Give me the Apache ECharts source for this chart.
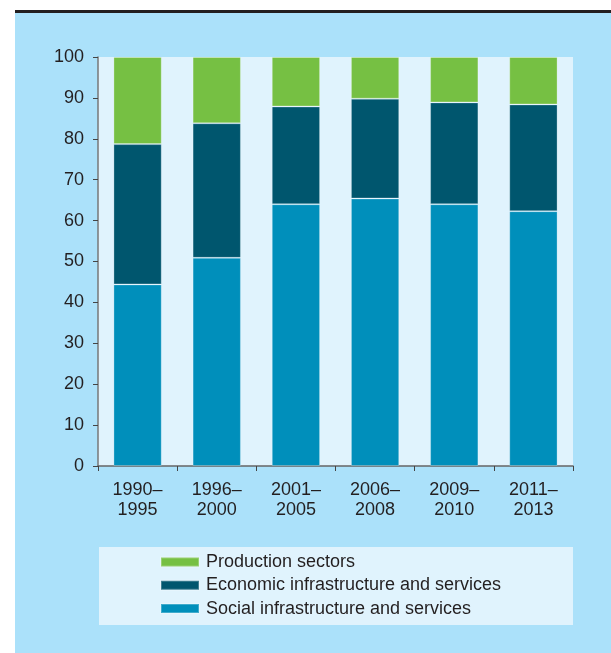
<!DOCTYPE html>
<html>
<head>
<meta charset="utf-8">
<script src="https://cdn.jsdelivr.net/npm/echarts@6/dist/echarts.min.js"></script>
<style>
html,body{margin:0;padding:0;background:#fff;}
#c{width:611px;height:653px;}
</style>
</head>
<body>
<div id="c"></div>
<script>
var categories = ['1990–\n1995','1996–\n2000','2001–\n2005','2006–\n2008','2009–\n2010','2011–\n2013'];
var social = [44.4, 50.9, 64.0, 65.4, 64.0, 62.3];
var economic = [34.3, 32.9, 23.9, 24.4, 24.9, 26.1];
var production = [21.3, 16.2, 12.1, 10.2, 11.1, 11.6];
var yTicks = [0,10,20,30,40,50,60,70,80,90,100];

var FONT = '"Liberation Sans", Arial, sans-serif';
var TXT = '#231f20';
var chart = echarts.init(document.getElementById('c'), null, {renderer:'canvas'});
var barBorder = {borderColor:'rgba(255,255,255,0.25)', borderWidth:1};
chart.setOption({
  animation:false,
  backgroundColor:'#ffffff',
  graphic:[
    {type:'rect', z:-10, shape:{x:15,y:13,width:596,height:640}, style:{fill:'#abe1fa'}},
    {type:'rect', z:-9, shape:{x:15,y:10,width:596,height:3}, style:{fill:'#231f20'}},
    {type:'rect', z:-9, shape:{x:99,y:547,width:474,height:78}, style:{fill:'#e0f3fd'}}
  ],
  grid:{left:98,right:38,top:57,bottom:187,show:true,backgroundColor:'#e0f3fd',borderWidth:0},
  legend:{
    orient:'vertical', left:160, top:553, padding:0,
    itemWidth:38, itemHeight:9, itemGap:5.3,
    icon:'rect',
    textStyle:{fontFamily:FONT,fontSize:18,color:TXT,lineHeight:16,padding:[0,0,0,2]},
    data:['Production sectors','Economic infrastructure and services','Social infrastructure and services']
  },
  xAxis:{
    type:'category', data:categories,
    axisLine:{lineStyle:{color:'#666',width:1.5}},
    axisTick:{show:true,length:5,interval:0,lineStyle:{color:'#444'}},
    axisLabel:{interval:0,margin:14,fontFamily:FONT,fontSize:18,color:TXT,lineHeight:20}
  },
  yAxis:{
    type:'value', min:yTicks[0], max:yTicks[yTicks.length-1], interval:10,
    axisLine:{show:true,lineStyle:{color:'#777',width:1.5}},
    axisTick:{show:true,length:5,lineStyle:{color:'#444'}},
    splitLine:{show:false},
    axisLabel:{margin:14,fontFamily:FONT,fontSize:18,color:TXT}
  },
  series:[
    {name:'Social infrastructure and services',type:'bar',stack:'a',barWidth:'61%',data:social,itemStyle:Object.assign({color:'#008fbb'},barBorder)},
    {name:'Economic infrastructure and services',type:'bar',stack:'a',data:economic,itemStyle:Object.assign({color:'#00566e'},barBorder)},
    {name:'Production sectors',type:'bar',stack:'a',data:production,itemStyle:Object.assign({color:'#76c043'},barBorder)}
  ]
});
</script>
</body>
</html>
